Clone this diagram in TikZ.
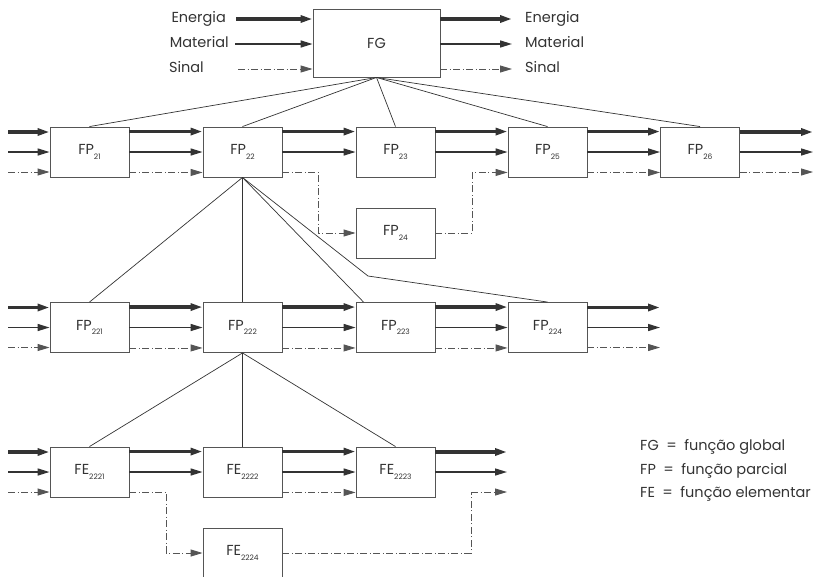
\documentclass[tikz,border=0pt]{standalone}
\usepackage{fontspec}
\setmainfont{Poppins}
\usetikzlibrary{arrows.meta,calc}
\definecolor{ink}{HTML}{333333}
\definecolor{boxc}{HTML}{555555}
\definecolor{sigc}{HTML}{555555}
\newcommand{\sbs}[1]{\raisebox{-4.5pt}{\fontsize{7.5}{8}\selectfont #1}}
\newcommand{\eqsp}{\hspace{7.5pt}=\hspace{7.5pt}}
\begin{document}
\begin{tikzpicture}[x=1pt,y=-1pt,
  font=\fontsize{14.5}{16}\selectfont, text=ink,
  fbox/.style={draw=boxc, line width=0.9pt, minimum width=79pt, minimum height=50pt, inner sep=0pt, fill=white},
  lbl/.style={inner sep=0pt, text height=1.6ex, text depth=0.3ex},
  tip/.style={-{Triangle[length=12pt,width=7pt]}},
  en/.style={tip, line width=3.2pt, draw=ink, color=ink},
  ma/.style={tip, line width=1.5pt, draw=ink, color=ink},
  sg/.style={tip, line width=0.9pt, draw=sigc, color=sigc, dash pattern=on 7pt off 2.5pt on 1pt off 2.5pt},
  sgl/.style={line width=0.9pt, draw=sigc, dash pattern=on 7pt off 2.5pt on 1pt off 2.5pt},
  hier/.style={line width=0.7pt, draw=ink}]
\useasboundingbox (0,0) rectangle (818,576);

% ---------- top: FG ----------
\node[fbox, minimum width=127pt, minimum height=68pt] (FG) at (376.5,43) {FG};
\node[lbl, anchor=east] (iE) at (226,19) {Energia};
\node[lbl, anchor=east] (iM) at (229,44) {Material};
\node[lbl, anchor=east] (iS) at (204,69) {Sinal};
\node[lbl, anchor=west] (oE) at (525,19) {Energia};
\node[lbl, anchor=west] (oM) at (525,44) {Material};
\node[lbl, anchor=west] (oS) at (525,69) {Sinal};
\draw[en] ([xshift=10pt]iE.east) -- (iE.east -| FG.west);
\draw[ma] ([xshift=6pt]iM.east) -- (iM.east -| FG.west);
\draw[sg] ([xshift=34pt]iS.east) -- (iS.east -| FG.west);
\draw[en] (FG.east |- oE.west) -- ([xshift=-13pt]oE.west);
\draw[ma] (FG.east |- oM.west) -- ([xshift=-13pt]oM.west);
\draw[sg] (FG.east |- oS.west) -- ([xshift=-13pt]oS.west);

% ---------- row 1 ----------
\node[fbox] (FP21) at (89.5,152) {FP\sbs{21}};
\node[fbox] (FP22) at (242.5,152) {FP\sbs{22}};
\node[fbox] (FP23) at (395.5,152) {FP\sbs{23}};
\node[fbox] (FP25) at (547.5,152) {FP\sbs{25}};
\node[fbox] (FP26) at (700,152) {FP\sbs{26}};
\node[fbox] (FP24) at (395.5,233) {FP\sbs{24}};
\coordinate (A1e) at (8,132); \coordinate (A1m) at (8,152); \coordinate (A1s) at (8,172);
\coordinate (B1e) at (813,132); \coordinate (B1m) at (813,152); \coordinate (B1s) at (813,172);

% ---------- row 2 ----------
\node[fbox] (FP221) at (89.5,327.5) {FP\sbs{221}};
\node[fbox] (FP222) at (242.5,327.5) {FP\sbs{222}};
\node[fbox] (FP223) at (395.5,327.5) {FP\sbs{223}};
\node[fbox] (FP224) at (547.5,327.5) {FP\sbs{224}};
\coordinate (A2e) at (8,307.5); \coordinate (A2m) at (8,327.5); \coordinate (A2s) at (8,347.5);
\coordinate (B2e) at (660,307.5); \coordinate (B2m) at (660,327.5); \coordinate (B2s) at (660,347.5);

% ---------- row 3 ----------
\node[fbox] (FE2221) at (89.5,472) {FE\sbs{2221}};
\node[fbox] (FE2222) at (242.5,472) {FE\sbs{2222}};
\node[fbox] (FE2223) at (395.5,472) {FE\sbs{2223}};
\node[fbox] (FE2224) at (242.5,553) {FE\sbs{2224}};
\coordinate (A3e) at (8,452); \coordinate (A3m) at (8,472); \coordinate (A3s) at (8,492);
\coordinate (B3e) at (507,452); \coordinate (B3m) at (507,472); \coordinate (B3s) at (507,492);

% ---------- hierarchy lines ----------
\foreach \t in {FP21,FP22,FP23,FP25,FP26} \draw[hier] (FG.south) -- (\t.north);
\coordinate (bend) at (368,276);
\draw[hier] (FP22.south) -- (FP221.north);
\draw[hier] (FP22.south) -- (FP222.north);
\draw[hier] (FP22.south) -- ([xshift=-32pt]FP223.north);
\draw[hier] (FP22.south) -- (bend) -- (FP224.north);
\draw[hier] (FP222.south) -- (FE2221.north);
\draw[hier] (FP222.south) -- (FE2222.north);
\draw[hier] (FP222.south) -- (FE2223.north);

% ---------- flows row 1 ----------
\draw[en] (A1e) -- (A1e -| FP21.west);
\draw[ma] (A1m) -- (A1m -| FP21.west);
\draw[sg] (A1s) -- (A1s -| FP21.west);
\foreach \a/\b in {FP21/FP22,FP22/FP23,FP23/FP25,FP25/FP26}{
  \draw[en] ([yshift=-5pt]\a.north east) -- ([yshift=-5pt]\b.north west);
  \draw[ma] (\a.east) -- (\b.west);
}
\draw[sg] ([yshift=5pt]FP21.south east) -- ([yshift=5pt]FP22.south west);
\draw[sg] ([yshift=5pt]FP25.south east) -- ([yshift=5pt]FP26.south west);
\draw[sg] ([yshift=5pt]FP22.south east) -- ++(36,0) |- (FP24.west);
\draw[sg] (FP24.east) -- ++(37,0) |- ([yshift=5pt]FP25.south west);
\draw[en] (B1e -| FP26.east) -- (B1e);
\draw[ma] (B1m -| FP26.east) -- (B1m);
\draw[sg] (B1s -| FP26.east) -- (B1s);

% ---------- flows row 2 ----------
\draw[en] (A2e) -- (A2e -| FP221.west);
\draw[ma] (A2m) -- (A2m -| FP221.west);
\draw[sg] (A2s) -- (A2s -| FP221.west);
\foreach \a/\b in {FP221/FP222,FP222/FP223,FP223/FP224}{
  \draw[en] ([yshift=-5pt]\a.north east) -- ([yshift=-5pt]\b.north west);
  \draw[ma] (\a.east) -- (\b.west);
  \draw[sg] ([yshift=5pt]\a.south east) -- ([yshift=5pt]\b.south west);
}
\draw[en] (B2e -| FP224.east) -- (B2e);
\draw[ma] (B2m -| FP224.east) -- (B2m);
\draw[sg] (B2s -| FP224.east) -- (B2s);

% ---------- flows row 3 ----------
\draw[en] (A3e) -- (A3e -| FE2221.west);
\draw[ma] (A3m) -- (A3m -| FE2221.west);
\draw[sg] (A3s) -- (A3s -| FE2221.west);
\foreach \a/\b in {FE2221/FE2222,FE2222/FE2223}{
  \draw[en] ([yshift=-5pt]\a.north east) -- ([yshift=-5pt]\b.north west);
  \draw[ma] (\a.east) -- (\b.west);
}
\draw[sg] ([yshift=5pt]FE2222.south east) -- ([yshift=5pt]FE2223.south west);
\draw[sg] ([yshift=5pt]FE2221.south east) -- ++(37,0) |- (FE2224.west);
\draw[sgl] (FE2224.east) -| ([xshift=-36pt]B3s);
\draw[sg] ([xshift=-36pt]B3s) -- (B3s);
\draw[en] (B3e -| FE2223.east) -- (B3e);
\draw[ma] (B3m -| FE2223.east) -- (B3m);

% ---------- legend ----------
\node[lbl, anchor=west] (lg1) at (640,447) {FG\eqsp função global};
\node[lbl, anchor=west] (lg2) at (640,471) {FP\eqsp função parcial};
\node[lbl, anchor=west] (lg3) at (640,494) {FE\eqsp função elementar};
\end{tikzpicture}
\end{document}
